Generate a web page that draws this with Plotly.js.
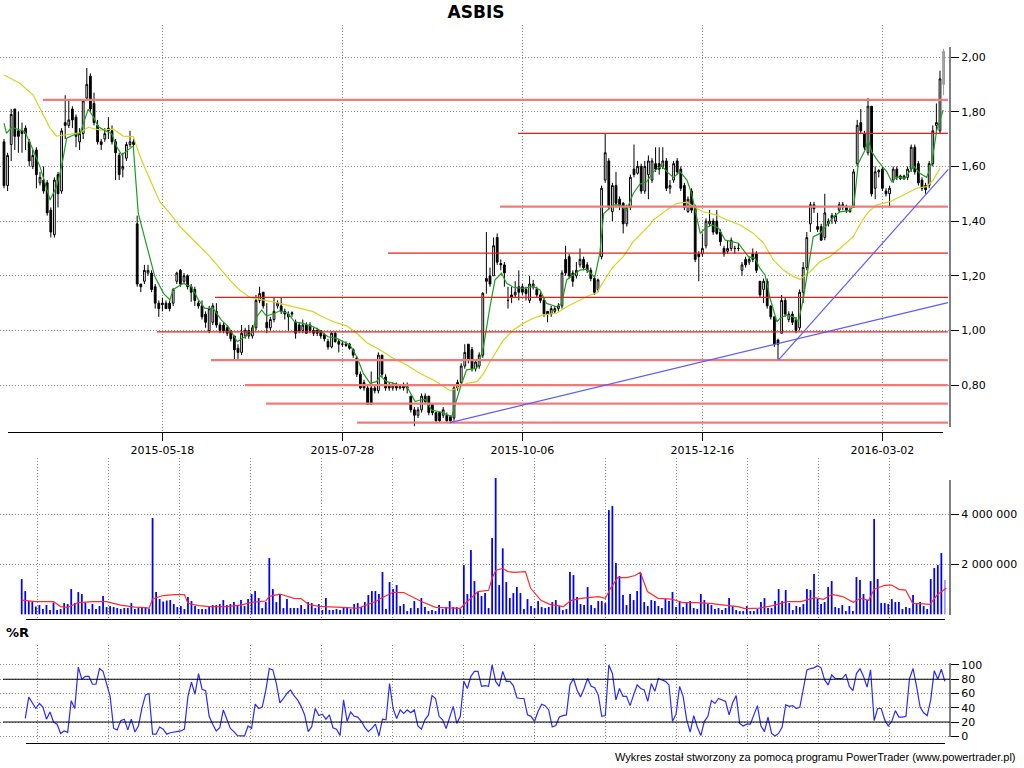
<!DOCTYPE html>
<html><head><meta charset="utf-8">
<script src="https://cdn.plot.ly/plotly-3.0.1.min.js"></script>
<style>html,body{margin:0;padding:0;background:#fff}#chart{width:1024px;height:768px}</style>
</head><body><div id="chart"></div>
<script>
// ---------- DATA ----------
const dateTicks = ['2015-05-18','2015-07-28','2015-10-06','2015-12-16','2016-03-02'];
const dateTickIdx = [44,94,144,194,244];

const open = [
1.69,1.53,1.68,1.81,1.73,1.73,1.74,1.69,1.60,1.66,
1.54,1.55,1.54,1.44,1.35,1.57,1.51,1.76,1.75,1.81,
1.78,1.69,1.72,1.85,1.93,1.83,1.75,1.69,1.70,1.74,
1.73,1.69,1.64,1.59,1.63,1.68,1.69,1.39,1.17,1.18,
1.21,1.21,1.16,1.10,1.10,1.10,1.10,1.10,1.18,1.22,
1.18,1.20,1.16,1.15,1.10,1.09,1.06,1.00,1.03,1.07,
1.02,1.02,1.01,1.00,0.98,0.935,0.92,0.98,1.00,0.98,
1.01,1.11,1.14,1.03,1.01,1.04,1.09,1.09,1.07,1.05,
1.06,1.03,1.02,1.00,1.02,1.02,1.00,1.00,1.00,0.985,
0.96,0.94,0.99,0.96,0.95,0.95,0.95,0.93,0.90,0.84,
0.81,0.79,0.79,0.79,0.78,0.91,0.83,0.80,0.79,0.80,
0.79,0.80,0.795,0.76,0.71,0.69,0.71,0.76,0.76,0.73,
0.70,0.70,0.69,0.69,0.685,0.68,0.79,0.81,0.87,0.95,
0.93,0.86,0.87,0.91,1.19,1.20,1.20,1.34,1.245,1.24,
1.11,1.13,1.13,1.16,1.16,1.15,1.11,1.16,1.15,1.13,
1.11,1.07,1.06,1.07,1.08,1.09,1.26,1.27,1.21,1.20,
1.24,1.26,1.24,1.22,1.19,1.15,1.27,1.55,1.62,1.435,
1.53,1.48,1.465,1.39,1.45,1.59,1.575,1.60,1.51,1.57,
1.55,1.61,1.61,1.60,1.62,1.52,1.55,1.62,1.59,1.53,
1.435,1.51,1.45,1.28,1.28,1.31,1.39,1.40,1.40,1.36,
1.30,1.29,1.30,1.30,1.30,1.22,1.26,1.25,1.28,1.28,
1.18,1.15,1.18,1.09,1.05,0.965,0.99,1.11,1.04,1.06,
1.04,1.01,1.14,1.23,1.39,1.46,1.38,1.38,1.34,1.39,
1.42,1.40,1.44,1.46,1.455,1.44,1.45,1.61,1.76,1.72,
1.65,1.82,1.52,1.585,1.59,1.51,1.50,1.55,1.59,1.555,
1.555,1.56,1.59,1.67,1.61,1.55,1.53,1.53,1.61,1.75,
1.73,1.90];
const high = [
1.70,1.65,1.81,1.81,1.80,1.76,1.75,1.70,1.66,1.67,
1.58,1.60,1.55,1.45,1.56,1.58,1.74,1.86,1.84,1.82,
1.79,1.74,1.84,1.96,1.94,1.87,1.77,1.70,1.74,1.78,
1.75,1.70,1.65,1.65,1.69,1.73,1.70,1.42,1.17,1.24,
1.24,1.22,1.17,1.11,1.12,1.11,1.11,1.155,1.215,1.225,
1.21,1.205,1.17,1.16,1.11,1.11,1.07,1.09,1.10,1.10,
1.03,1.03,1.02,1.00,0.98,0.95,1.02,1.01,1.02,1.02,
1.13,1.16,1.14,1.10,1.05,1.12,1.11,1.12,1.08,1.07,
1.07,1.04,1.03,1.04,1.03,1.03,1.01,1.01,1.00,0.99,
0.97,0.995,0.995,0.97,0.96,0.96,0.955,0.935,0.905,0.85,
0.82,0.80,0.85,0.80,0.92,0.91,0.84,0.81,0.81,0.81,
0.80,0.81,0.81,0.76,0.72,0.72,0.77,0.77,0.76,0.73,
0.70,0.70,0.72,0.70,0.69,0.80,0.82,0.88,0.95,0.95,
0.94,0.89,0.92,1.14,1.36,1.23,1.34,1.355,1.26,1.25,
1.16,1.16,1.18,1.22,1.17,1.16,1.20,1.185,1.16,1.14,
1.12,1.07,1.09,1.09,1.10,1.22,1.31,1.28,1.22,1.25,
1.30,1.27,1.25,1.23,1.20,1.19,1.53,1.72,1.63,1.54,
1.58,1.49,1.47,1.46,1.57,1.68,1.62,1.61,1.62,1.64,
1.63,1.67,1.67,1.67,1.63,1.55,1.62,1.63,1.60,1.54,
1.49,1.52,1.46,1.29,1.355,1.41,1.44,1.41,1.44,1.37,
1.31,1.33,1.34,1.31,1.32,1.25,1.27,1.27,1.30,1.29,
1.18,1.19,1.19,1.09,1.05,0.97,1.13,1.12,1.07,1.07,
1.05,1.15,1.25,1.36,1.47,1.47,1.43,1.39,1.50,1.41,
1.43,1.43,1.47,1.47,1.46,1.45,1.59,1.77,1.81,1.73,
1.85,1.82,1.60,1.59,1.60,1.52,1.53,1.60,1.60,1.57,
1.57,1.60,1.68,1.68,1.62,1.56,1.54,1.62,1.75,1.83,
1.95,2.03];
const low = [
1.52,1.51,1.62,1.66,1.65,1.65,1.66,1.60,1.59,1.52,
1.53,1.50,1.42,1.34,1.34,1.45,1.50,1.70,1.74,1.74,
1.67,1.66,1.70,1.84,1.80,1.75,1.68,1.66,1.69,1.70,
1.68,1.55,1.55,1.56,1.62,1.67,1.67,1.16,1.14,1.17,
1.20,1.14,1.08,1.05,1.07,1.08,1.07,1.09,1.17,1.16,
1.17,1.15,1.105,1.09,1.08,1.04,1.01,0.99,1.02,1.01,
0.99,0.99,0.98,0.96,0.89,0.89,0.91,0.97,0.97,0.97,
1.00,1.10,1.08,0.99,1.00,1.03,1.08,1.06,1.04,1.00,
1.05,0.97,0.99,0.99,0.99,0.99,0.98,0.98,0.97,0.96,
0.93,0.935,0.955,0.92,0.94,0.94,0.93,0.90,0.83,0.785,
0.78,0.73,0.73,0.77,0.77,0.83,0.78,0.78,0.78,0.78,
0.785,0.78,0.77,0.70,0.65,0.68,0.70,0.73,0.69,0.69,
0.665,0.665,0.68,0.665,0.66,0.67,0.78,0.80,0.86,0.88,
0.85,0.85,0.86,0.90,1.135,1.16,1.20,1.24,1.22,1.16,
1.08,1.10,1.12,1.11,1.13,1.11,1.10,1.15,1.12,1.10,
1.05,1.03,1.05,1.06,1.07,1.08,1.20,1.19,1.16,1.19,
1.23,1.22,1.21,1.18,1.13,1.14,1.26,1.54,1.44,1.40,
1.45,1.44,1.355,1.38,1.44,1.56,1.57,1.50,1.50,1.48,
1.54,1.58,1.57,1.59,1.51,1.50,1.54,1.57,1.51,1.44,
1.43,1.43,1.25,1.18,1.27,1.30,1.38,1.35,1.35,1.31,
1.27,1.28,1.29,1.28,1.29,1.20,1.23,1.24,1.25,1.21,
1.12,1.10,1.08,1.04,0.94,0.89,0.99,1.05,1.03,1.02,
0.99,1.00,1.10,1.22,1.36,1.43,1.36,1.33,1.33,1.38,
1.39,1.39,1.43,1.44,1.43,1.43,1.45,1.60,1.72,1.66,
1.64,1.49,1.48,1.56,1.51,1.49,1.45,1.54,1.55,1.55,
1.55,1.55,1.58,1.57,1.53,1.51,1.50,1.52,1.60,1.72,
1.72,1.86];
const close = [
1.53,1.64,1.79,1.71,1.71,1.72,1.72,1.62,1.64,1.57,
1.56,1.51,1.43,1.36,1.55,1.50,1.73,1.75,1.77,1.77,
1.71,1.72,1.84,1.90,1.81,1.76,1.69,1.68,1.72,1.73,
1.69,1.65,1.57,1.60,1.68,1.69,1.68,1.17,1.16,1.22,
1.22,1.15,1.10,1.08,1.095,1.08,1.08,1.15,1.21,1.17,
1.20,1.16,1.14,1.11,1.09,1.05,1.03,1.08,1.09,1.02,
1.00,1.00,0.99,0.97,0.93,0.92,0.99,1.00,0.98,1.01,
1.11,1.135,1.09,1.01,1.04,1.07,1.10,1.07,1.06,1.06,
1.065,0.99,1.00,1.02,0.99,1.00,0.99,0.99,0.98,0.97,
0.94,0.99,0.96,0.95,0.95,0.945,0.935,0.91,0.84,0.79,
0.79,0.73,0.73,0.78,0.91,0.84,0.79,0.79,0.80,0.79,
0.795,0.79,0.79,0.71,0.69,0.71,0.76,0.74,0.70,0.70,
0.67,0.67,0.71,0.67,0.67,0.79,0.81,0.87,0.92,0.89,
0.86,0.885,0.91,1.136,1.18,1.17,1.31,1.25,1.24,1.21,
1.11,1.12,1.14,1.14,1.14,1.135,1.17,1.17,1.13,1.11,
1.06,1.06,1.08,1.08,1.09,1.21,1.21,1.20,1.18,1.22,
1.26,1.23,1.22,1.19,1.14,1.185,1.52,1.65,1.45,1.53,
1.465,1.455,1.39,1.45,1.56,1.57,1.60,1.51,1.60,1.62,
1.62,1.59,1.59,1.62,1.52,1.53,1.61,1.58,1.52,1.45,
1.48,1.44,1.26,1.27,1.30,1.40,1.40,1.36,1.355,1.325,
1.28,1.30,1.33,1.30,1.30,1.24,1.24,1.26,1.26,1.22,
1.13,1.18,1.09,1.05,0.95,0.95,1.11,1.06,1.06,1.03,
1.00,1.14,1.23,1.34,1.46,1.445,1.37,1.33,1.43,1.40,
1.41,1.42,1.46,1.455,1.44,1.435,1.58,1.75,1.73,1.67,
1.82,1.50,1.58,1.58,1.52,1.50,1.52,1.59,1.56,1.565,
1.565,1.59,1.67,1.58,1.54,1.52,1.515,1.61,1.73,1.76,
1.92,2.02];

// short moving average (green): bar position / value
const maShortIdx = [0,0.7,2.1,3.5,5.8,7.7,10,12.8,14.6,16,17.4,19.3,21.1,23.4,24.8,26.2,28,29.9,31.3,32.7,34.5,35.9,37.3,39.6,41.9,44.3,46.1,47,49.8,52.1,54,55.8,58.1,60.4,62.3,64.8,66.9,68.8,70.2,71.6,72.9,75.2,76.6,78.9,80.7,83,85.8,87.6,90,92.4,96.1,98,99.8,101.7,103.5,104.5,106.3,110,111.9,114.2,115.6,117,118.8,121.1,123.5,124.4,125.3,126.7,128.5,131.3,132.2,133.2,135,136.4,138.2,139.6,141.5,144.2,147,148.9,150.7,153.5,154.9,156.3,158.1,160,161.8,164.1,165.5,166.6,169.2,171.1,172.9,174.8,176.6,178.5,180.4,182.7,184.1,186,187.8,189.7,191,192,193.4,194.8,196.6,198.5,200.3,202.2,204,205.4,206.8,208.6,210,211.4,212.8,214.7,215.6,217.4,219.3,220.7,222.1,223,224.8,226.7,228.5,230.4,232.2,235,236.1,237.3,239.2,240.1,241,242.9,245.2,246.6,248,250.3,252.6,254.4,256.3,257.7,259.1,260.9];
const maShortVal = [1.758,1.721,1.743,1.736,1.727,1.672,1.599,1.477,1.526,1.599,1.703,1.715,1.72,1.809,1.782,1.745,1.731,1.72,1.672,1.642,1.66,1.675,1.428,1.307,1.197,1.136,1.112,1.15,1.172,1.16,1.112,1.081,1.081,1.038,1.014,0.959,0.977,0.99,1.05,1.075,1.053,1.063,1.072,1.063,1.032,1.026,1.014,1.002,0.977,0.971,0.947,0.904,0.843,0.807,0.813,0.834,0.813,0.801,0.795,0.74,0.746,0.748,0.709,0.703,0.691,0.685,0.728,0.789,0.856,0.862,0.892,0.941,1.087,1.185,1.209,1.173,1.158,1.154,1.16,1.148,1.099,1.087,1.099,1.185,1.203,1.221,1.224,1.194,1.282,1.428,1.459,1.459,1.44,1.501,1.535,1.544,1.581,1.602,1.581,1.56,1.581,1.55,1.501,1.441,1.355,1.374,1.386,1.374,1.331,1.325,1.319,1.294,1.27,1.264,1.227,1.203,1.118,1.032,1.045,1.057,1.05,1.032,1.12,1.197,1.343,1.355,1.386,1.416,1.434,1.438,1.459,1.611,1.66,1.697,1.654,1.617,1.581,1.544,1.562,1.556,1.602,1.575,1.56,1.611,1.733,1.806];

// long moving average (yellow)
const maLongIdx = [0,4.4,8.1,10.9,12.8,14.6,17.4,21.1,23.4,26.7,30.4,33.1,35.9,37.8,40.6,43.3,46.1,48.9,52.6,57.2,60,62.7,65.5,68.3,71.1,74.8,78.5,82.2,85.9,88,91.5,95.2,98,100.8,104.5,108.2,111.9,115.6,119.3,122.1,123.9,125.8,128.5,131.3,132.2,133.2,135,138.7,141.5,144.2,147,149.8,153.5,156.3,160,162.8,164.6,166.5,169.2,172,174.8,177,179.4,180.4,184.1,186.9,189.7,191.5,194.3,198,200.8,204.5,208.2,211,213.7,216.5,219.3,221.1,223.9,226.7,229.4,232.2,235.9,238.2,240.1,242.4,246.1,248.9,251.7,253.5,256.3,258.1,260];
const maLongVal = [1.934,1.904,1.861,1.788,1.739,1.711,1.715,1.723,1.743,1.733,1.736,1.711,1.709,1.636,1.55,1.47,1.428,1.38,1.331,1.27,1.227,1.185,1.148,1.121,1.114,1.105,1.093,1.081,1.069,1.053,1.032,1.017,0.99,0.955,0.929,0.898,0.874,0.843,0.819,0.795,0.78,0.789,0.807,0.813,0.825,0.843,0.886,0.965,1.002,1.026,1.045,1.057,1.063,1.087,1.112,1.13,1.136,1.179,1.233,1.27,1.325,1.355,1.386,1.404,1.441,1.465,1.469,1.453,1.434,1.422,1.404,1.386,1.355,1.319,1.258,1.221,1.197,1.187,1.215,1.252,1.27,1.30,1.343,1.398,1.434,1.459,1.471,1.489,1.508,1.52,1.526,1.55,1.593];

// volume, millions of shares
const volumeM = [
1.41,0.93,0.53,0.51,0.31,0.37,0.21,0.37,0.17,0.47,
0.17,0.21,0.45,0.41,1.01,0.45,0.89,0.81,0.47,0.21,
0.41,0.21,0.33,0.73,0.29,0.33,0.29,0.25,0.21,0.25,
0.25,0.45,0.21,0.25,0.29,0.29,0.21,3.85,0.89,0.61,
0.51,0.55,0.57,0.41,0.29,0.33,0.21,0.69,0.53,0.33,
0.21,0.21,0.21,0.33,0.37,0.37,0.41,0.57,0.37,0.41,
0.49,0.37,0.57,0.33,0.61,0.81,0.93,0.65,0.25,0.49,
2.25,1.01,0.49,0.81,0.25,0.61,0.25,0.25,0.25,0.37,
0.21,0.49,0.45,0.25,0.41,0.17,0.65,0.17,0.17,0.21,
0.17,0.25,0.25,0.21,0.41,0.45,0.29,0.49,0.77,0.93,
0.93,0.81,1.69,0.21,1.29,1.01,1.17,0.33,0.41,0.13,
0.25,0.53,0.25,0.65,0.29,0.13,0.17,0.13,0.37,0.21,
0.29,0.53,0.29,0.29,0.21,1.97,0.81,2.57,1.33,0.89,
0.73,0.85,0.25,3.05,5.45,1.17,2.64,1.29,0.65,0.85,
1.09,0.85,0.21,0.61,0.33,0.25,0.53,0.29,0.25,0.29,
0.49,0.57,0.33,0.17,0.21,1.69,1.57,0.69,0.41,0.37,
1.09,0.37,0.25,0.53,0.53,0.45,4.17,4.33,2.05,1.53,
0.77,0.37,0.81,0.57,0.93,1.65,0.49,0.33,0.57,0.53,
0.33,0.25,0.61,0.53,0.89,0.29,0.53,0.29,0.45,0.53,
0.25,0.21,0.81,0.57,0.41,0.37,0.21,0.25,0.17,0.25,
0.65,0.33,0.17,0.13,0.13,0.33,0.13,0.13,0.21,0.49,
0.65,0.25,0.25,0.53,1.01,0.53,0.97,0.45,0.17,0.33,
0.29,0.41,1.01,0.97,1.61,0.61,0.41,0.49,1.09,1.33,
0.29,0.25,0.37,0.13,0.33,0.13,1.49,1.37,0.81,0.57,
1.33,3.81,1.41,0.45,0.45,0.41,0.61,0.49,0.49,0.21,
0.29,0.25,0.77,0.41,0.49,0.33,0.21,1.41,1.85,1.97,
2.45,1.37];

// volume moving average (red), millions
const volMaIdx = [0,4,9,11,13,16,20,24,28,32,35,36,37,40,43,46,47,50,53,58,62,65,69,70,73,77,79,81,84,88,92,95,97,100,102,105,108,111,113,117,120,124,126,128,129,132,133,134,136,137.5,139.4,142.4,143.9,146.8,149.3,153.2,155.2,158.1,163,165,166.5,168.5,171,173.4,174.9,176.9,179.9,183.8,186.8,190.7,194.7,198.6,202.5,204.5,208.5,212.4,216.4,220.3,224.2,226.7,229.1,232.1,235.1,237.1,239.5,241,244,246,248,249.9,251.9,253.9,256.8,258.8,261.4];
const volMaM = [0.57,0.51,0.51,0.31,0.28,0.47,0.51,0.51,0.37,0.29,0.27,0.24,0.61,0.75,0.79,0.79,0.44,0.35,0.31,0.31,0.37,0.48,0.53,0.72,0.81,0.64,0.63,0.40,0.32,0.31,0.27,0.24,0.35,0.51,0.67,0.88,0.87,0.64,0.51,0.28,0.27,0.24,0.51,0.77,0.91,0.96,1.44,1.75,1.84,1.71,1.68,1.71,1.04,0.56,0.40,0.31,0.55,0.64,0.71,0.64,1.04,1.47,1.47,1.55,1.68,0.91,0.64,0.61,0.47,0.47,0.44,0.37,0.31,0.23,0.25,0.35,0.51,0.51,0.67,0.60,0.80,0.71,0.48,0.64,0.56,1.00,1.16,1.17,1.00,0.97,0.44,0.43,0.40,0.77,1.05];

// Williams %R, bars 1..261
const williamsR = [
25,55,47,39,46,41,24,34,20,17,
4,7.5,5.6,50,39,97,80,84,84,73,
73,95,91,73,56,11,9,22,24,9,
24,6,14.5,40,58,60,3,3,13,10,
3,5,6,7,7.5,10,56,76,59,88,
66,64,28,17,7.5,12,37,24,11,6.5,
1,0.5,0.5,14.5,11,45,39,41,64,95,
93,74,47,53,60,65,57,51,42,30,
6.5,13.5,39,29,31,24,30,12,10,1,
51,21,34,28,27,21,12.6,6.5,11,17,
0.5,24,23,74,39,25,37,32,37,33,
37,14.5,10,23,30,57,53,28,23,11,
28,42,18,28,77,67,84,91,91,70,
71,70,100,77,70,91,77,77,71,54,
53,53,30,28,21,35,45,43,37,13,
15,27,29,30,72,81,65,55,67,81,
70,68,58,28,29,100,88,51,67,56,
56,43,58,72,67,65,49,74,63,81,
79,77,72,21,31,70,56,23,6,29,
13,1,21,28,50,46,53,51,49,30,
47,57,18,14.5,17,17,29,43,14.5,6.5,
27,4,0.5,4,13,44,42,43,39,41,
67,93,95,96,99,96,79,72,86,81,
81,81,87,70,64,88,95,84,69,93,
22,39,39,23,14.5,21,36,27,27,28,
81,95,70,41,33,29,51,92,80,94,
77];

// support / resistance levels drawn on the chart, and the bar where each starts
const levelPrice = [1.843,1.721,1.453,1.283,1.121,0.995,0.892,0.800,0.733,0.663];
const levelStart = [10.8,142.8,137.8,106.7,58.6,42.5,57.5,66.9,72.8,98.1];
const levelBold  = [true,false,true,false,false,false,true,true,true,true];
// trend lines: [startBar, startPrice, endBar, endPrice]
const trendLines = [[123.9,0.663,262.2,1.102],[215.1,0.892,262.3,1.589]];

// ---------- CHART ----------
const W = 950, H = 768;
const px = x => x / W;
const py = y => 1 - y / H;
const n = close.length;
const idx = close.map((_, i) => i);
const last = n - 1;

const gridCol = '#8a8a8a', gridDash = '1px,2px';
const fontFam = 'DejaVu Sans, sans-serif';

const traces = [
  {
    type: 'candlestick', xaxis: 'x', yaxis: 'y',
    x: idx.slice(0, last), open: open.slice(0, last), high: high.slice(0, last),
    low: low.slice(0, last), close: close.slice(0, last),
    increasing: {line: {color: '#000', width: 1}, fillcolor: '#ffffff'},
    decreasing: {line: {color: '#000', width: 1}, fillcolor: '#000000'},
    whiskerwidth: 0, hoverinfo: 'skip', showlegend: false
  },
  {
    type: 'candlestick', xaxis: 'x', yaxis: 'y',
    x: [idx[last]], open: [open[last]], high: [high[last]], low: [low[last]], close: [close[last]],
    increasing: {line: {color: '#999', width: 1}, fillcolor: '#a8a8a8'},
    decreasing: {line: {color: '#999', width: 1}, fillcolor: '#a8a8a8'},
    whiskerwidth: 0, hoverinfo: 'skip', showlegend: false
  },
  {type: 'scatter', mode: 'lines', xaxis: 'x', yaxis: 'y', x: maLongIdx, y: maLongVal,
   line: {color: '#d6d41e', width: 1.2}, hoverinfo: 'skip', showlegend: false},
  {type: 'scatter', mode: 'lines', xaxis: 'x', yaxis: 'y', x: maShortIdx, y: maShortVal,
   line: {color: '#1e9e1e', width: 1.2}, hoverinfo: 'skip', showlegend: false},
  {type: 'bar', xaxis: 'x2', yaxis: 'y2', x: idx, y: volumeM.map(v => v * 1e6), width: 0.5,
   marker: {color: idx.map(i => i === last ? '#9a9aff' : '#0000ff'), line: {width: 0}},
   hoverinfo: 'skip', showlegend: false},
  {type: 'scatter', mode: 'lines', xaxis: 'x2', yaxis: 'y2', x: volMaIdx, y: volMaM.map(v => v * 1e6),
   line: {color: '#ff2a2a', width: 1.2}, hoverinfo: 'skip', showlegend: false},
  {type: 'scatter', mode: 'lines', xaxis: 'x3', yaxis: 'y3', x: williamsR.map((_, i) => i + 1), y: williamsR,
   line: {color: '#2a2aff', width: 1.2}, hoverinfo: 'skip', showlegend: false}
];

const shapes = [];
levelPrice.forEach((p, k) => {
  shapes.push({type: 'line', xref: 'x', yref: 'y', x0: levelStart[k], x1: 262.2, y0: p, y1: p,
    line: levelBold[k] ? {color: '#f47a7a', width: 2.2} : {color: '#ee1a1a', width: 1.2}});
});
trendLines.forEach(t => {
  shapes.push({type: 'line', xref: 'x', yref: 'y', x0: t[0], y0: t[1], x1: t[2], y1: t[3],
    line: {color: '#5c5cff', width: 1.2}});
});
function pline(x0, y0, x1, y1) {
  shapes.push({type: 'line', xref: 'paper', yref: 'paper', x0: px(x0), x1: px(x1), y0: py(y0), y1: py(y1),
    line: {color: '#000', width: 1}});
}
pline(8, 432.5, 943, 432.5);      // price x axis line
pline(950, 47, 950, 427);         // price right axis
pline(950, 480, 950, 615);        // volume right axis
pline(26, 619.5, 945, 619.5);     // volume bottom line
pline(950, 663, 950, 737);        // %R right axis
pline(26, 743.5, 945, 743.5);     // %R bottom line
[20, 80].forEach(v => shapes.push({type: 'line', xref: 'paper', yref: 'y3', x0: px(3), x1: 1, y0: v, y1: v,
  line: {color: '#000', width: 1}}));

const lowerGrid = Array.from({length: 13}, (_, k) => (37.5 + 70.96 * k - 21.7) / 3.537);

const axBase = {showline: false, zeroline: false, fixedrange: true,
  tickfont: {family: fontFam, size: 11, color: '#000'}};

const layout = {
  width: 1024, height: 768,
  margin: {l: 0, r: 74, t: 0, b: 0},
  paper_bgcolor: '#fff', plot_bgcolor: '#fff',
  showlegend: false, separators: ', ',
  font: {family: fontFam, size: 11, color: '#000'},
  title: {text: '<b>ASBIS</b>', font: {family: fontFam, size: 17, color: '#000'},
    x: 476 / 1024, xanchor: 'center', xref: 'container', y: 1 - 12 / 768, yanchor: 'middle', yref: 'container'},
  xaxis: Object.assign({}, axBase, {domain: [0, 1], anchor: 'y', range: [-1.11, 262.78],
    tickmode: 'array', tickvals: dateTickIdx, ticktext: dateTicks, ticks: 'outside', ticklen: 8, tickcolor: '#000',
    showgrid: true, gridcolor: gridCol, griddash: gridDash, rangeslider: {visible: false}}),
  yaxis: Object.assign({}, axBase, {domain: [py(432), py(25)], anchor: 'x', side: 'right', range: [0.6289, 2.117],
    tickmode: 'array', tickvals: [0.8, 1.0, 1.2, 1.4, 1.6, 1.8, 2.0], tickformat: '.2f',
    ticks: 'outside', ticklen: 8, tickcolor: '#000', showgrid: true, gridcolor: gridCol, griddash: gridDash}),
  xaxis2: Object.assign({}, axBase, {domain: [0, 1], anchor: 'y2', range: [-6.135, 262.45],
    tickmode: 'array', tickvals: lowerGrid, showticklabels: false, ticks: '',
    showgrid: true, gridcolor: gridCol, griddash: gridDash}),
  yaxis2: Object.assign({}, axBase, {domain: [py(619), py(458)], anchor: 'x2', side: 'right', range: [-0.188e6, 6.252e6],
    tickmode: 'array', tickvals: [2e6, 4e6], tickformat: ',d',
    ticks: 'outside', ticklen: 8, tickcolor: '#000', showgrid: true, gridcolor: gridCol, griddash: gridDash}),
  xaxis3: Object.assign({}, axBase, {domain: [0, 1], anchor: 'y3', range: [-6.135, 262.45],
    tickmode: 'array', tickvals: lowerGrid, showticklabels: false, ticks: '',
    showgrid: true, gridcolor: gridCol, griddash: gridDash}),
  yaxis3: Object.assign({}, axBase, {domain: [py(743), py(645)], anchor: 'x3', side: 'right', range: [-9.4, 128],
    tickmode: 'array', tickvals: [0, 20, 40, 60, 80, 100],
    ticks: 'outside', ticklen: 8, tickcolor: '#000', showgrid: true, gridcolor: gridCol, griddash: gridDash}),
  shapes: shapes,
  annotations: [
    {text: '<b>%R</b>', xref: 'paper', yref: 'paper', x: px(4), y: py(632), xanchor: 'left', yanchor: 'middle',
     showarrow: false, font: {family: fontFam, size: 13, color: '#000'}},
    {text: 'Wykres został stworzony za pomocą programu PowerTrader (www.powertrader.pl)',
     xref: 'paper', yref: 'paper', x: px(1018), y: py(757), xanchor: 'right', yanchor: 'middle',
     showarrow: false, font: {family: 'Liberation Sans, Arial, sans-serif', size: 11, color: '#000'}}
  ]
};

Plotly.newPlot('chart', traces, layout, {staticPlot: true, displayModeBar: false});
</script></body></html>
